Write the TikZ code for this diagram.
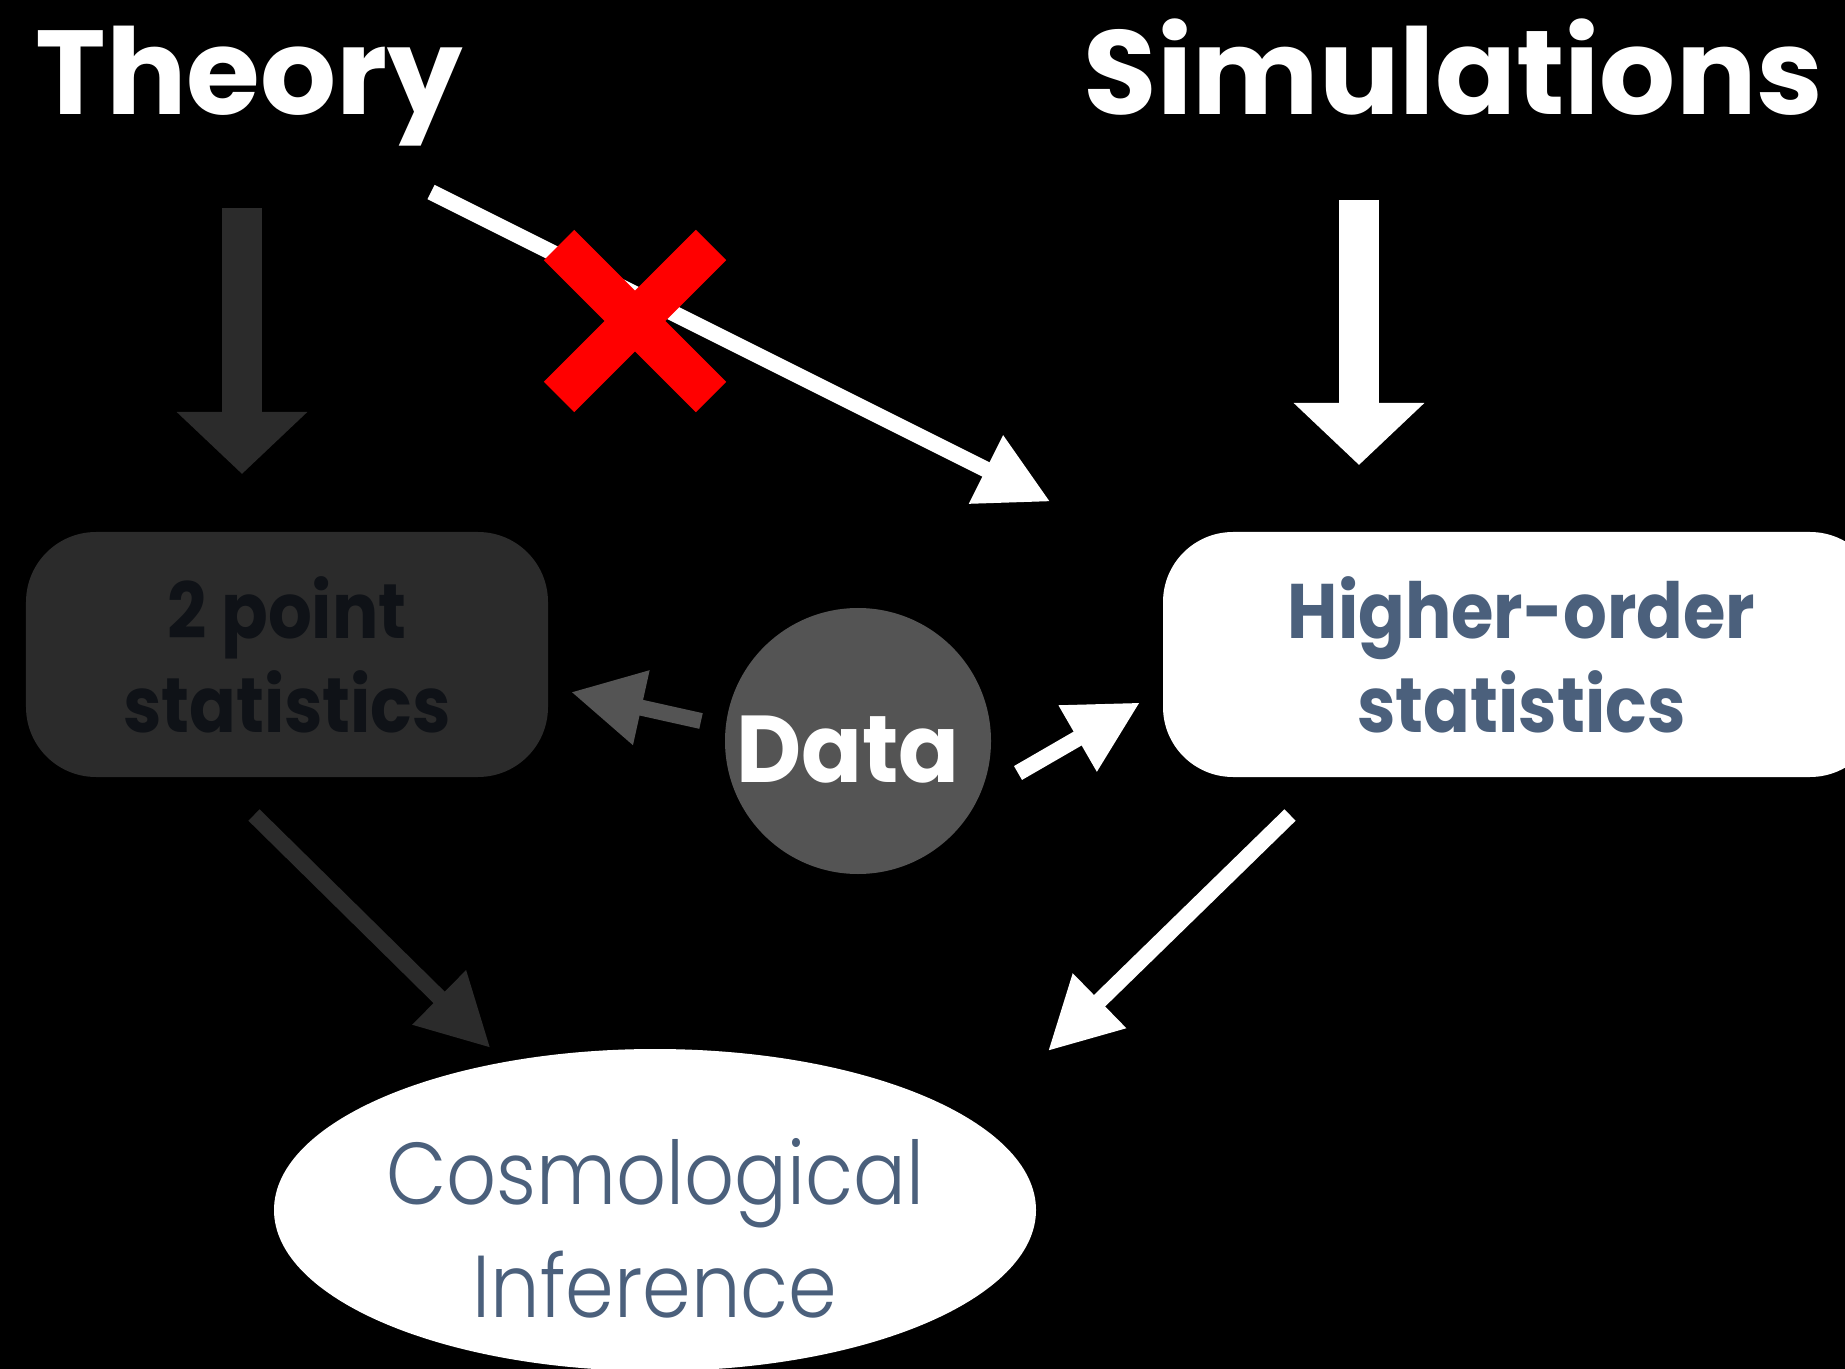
\documentclass[tikz,border=0pt]{standalone}
\usepackage{fontspec}
\setmainfont{Poppins}
\newfontfamily\thinfont{Poppins Light}[FakeStretch=0.89]
\newfontfamily\boxfont{Poppins Bold}[FakeStretch=0.89]
\newfontfamily\datafont{Poppins Bold}[FakeStretch=0.945]
\usepackage{xcolor}
\usetikzlibrary{arrows.meta,calc}
\usetikzlibrary{positioning,shapes.geometric,shapes.misc}

\definecolor{boxgrey}{HTML}{2B2B2B}
\definecolor{datagrey}{HTML}{545454}
\definecolor{inkblack}{HTML}{0F1217}
\definecolor{slate}{HTML}{4B607C}

\begin{document}
\begin{tikzpicture}[
    title/.style={text=white, inner sep=0, font=\fontsize{34}{40}\selectfont\bfseries},
    stat/.style={rectangle, rounded corners=0.7cm, minimum width=5.22cm, minimum height=2.45cm,
      inner sep=0, outer sep=0, align=center, font=\fontsize{22}{26.7}\selectfont\boxfont},
    fat/.style={line width=0.4cm, -{Triangle[length=0.62cm, width=1.27cm]}},
    slim/.style={line width=0.16cm, -{Triangle[length=0.72cm, width=0.72cm]}}]

  \fill[black] (0,0) rectangle (18.45,-13.69);
  \useasboundingbox (0,0) rectangle (18.45,-13.69);

  % Nodes
  \node[title, anchor=base west] (th) at (0.35,-1.15) {Theory};
  \node[title, anchor=base east] (sim) at (18.24,-1.15) {Simulations};
  \node[stat, fill=boxgrey, text=inkblack] (two) at (2.87,-6.545) {2 point\\statistics};
  \node[stat, fill=white, text=slate, minimum width=7.17cm] (hos) at (15.215,-6.545) {Higher-order\\statistics};
  \node[circle, fill=datagrey, minimum size=2.66cm, inner sep=0,
    label={[text=white, xshift=-0.1cm, yshift=-0.09cm, font=\fontsize{27}{32}\selectfont\datafont]center:Data}]
    (dat) at (8.58,-7.41) {};
  \node[ellipse, fill=white, minimum width=7.62cm, minimum height=3.22cm, inner sep=0,
    label={[text=slate, align=center, yshift=-0.18cm, font=\fontsize{25}{32.2}\selectfont\thinfont]center:Cosmological\\Inference}]
    (inf) at (6.55,-12.10) {};

  % Edges
  \coordinate (thTail) at (2.42,-2.08);
  \coordinate (simTail) at (13.59,-2.00);
  \coordinate (noTail) at (4.31,-1.92);
  \coordinate (datTail) at (7.01,-7.21);
  \coordinate (datTail2) at (10.18,-7.73);
  \coordinate (twoTail) at ([shift={(-0.33,-0.38)}]two.south);
  \coordinate (hosTail) at ([shift={(1.27,-0.38)}]hos.south west);
  \coordinate (infTip) at (10.48,-10.51);

  \draw[fat, boxgrey, shorten >=0.58cm] (thTail) -- (thTail |- two.north);
  \draw[fat, white, shorten >=0.67cm] (simTail) -- (simTail |- hos.north);
  \draw[slim, white, shorten >=1.26cm] (noTail) -- ([yshift=-0.26cm]hos.north west);
  \node[cross out, draw=red, line width=0.43cm, minimum size=1.52cm, inner sep=0, outer sep=0] (no) at (6.35,-3.21) {};
  \draw[slim, datagrey, shorten >=0.236cm] (datTail) -- ([yshift=-0.324cm]two.east);
  \draw[slim, white, shorten >=0.266cm] (datTail2) -- ([yshift=-0.347cm]hos.west);
  \draw[slim, boxgrey, shorten >=2.31cm] (twoTail) -- (inf.center);
  \draw[slim, white] (hosTail) -- (infTip);

\end{tikzpicture}
\end{document}
